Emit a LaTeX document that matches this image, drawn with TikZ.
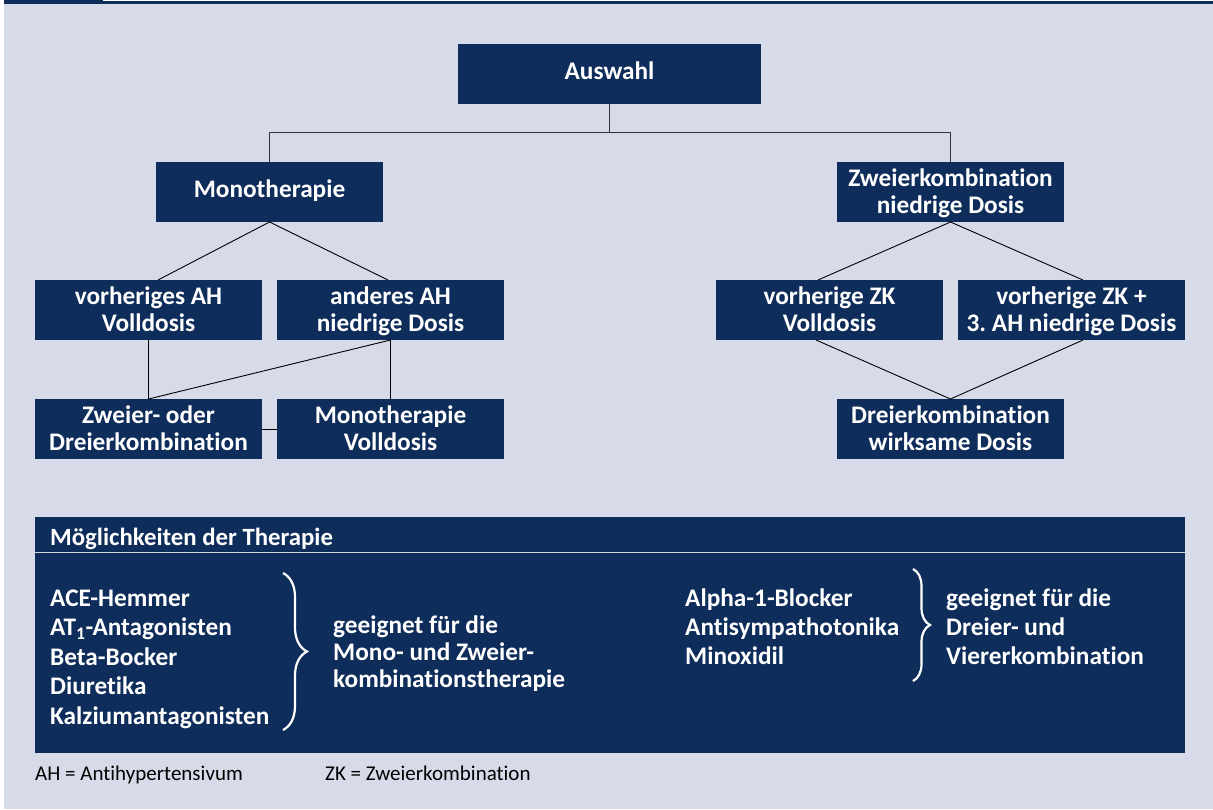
\documentclass[tikz,border=0pt]{standalone}
\usepackage{fontspec}
\setmainfont{Carlito}[Ligatures={NoCommon}]
\usetikzlibrary{decorations.pathreplacing}
\definecolor{navy}{RGB}{15,45,90}
\definecolor{bgc}{RGB}{215,219,233}
\newcommand{\oneS}{\rule[-7pt]{0pt}{25pt}}
\newcommand{\twoS}{\rule[-6pt]{0pt}{27pt}}
\frenchspacing
\tikzset{
  box/.style={fill=navy, text=white, font=\bfseries\fontsize{25.3}{27}\selectfont,
    minimum width=227pt, minimum height=60pt, inner sep=0pt, outer sep=0pt, align=center},
  conn/.style={draw=black, line width=0.9pt},
  busline/.style={draw=black!80, line width=1.2pt},
  lst/.style={text=white, font=\bfseries\fontsize{25.3}{29}\selectfont, anchor=base west, inner sep=0pt},
  hdr/.style={text=white, font=\bfseries\fontsize{24.8}{28}\selectfont, anchor=base west, inner sep=0pt},
  foot/.style={text=black, font=\fontsize{21}{24}\selectfont, anchor=base west, inner sep=0pt},
  brc/.style={draw=white, line width=2.2pt, decorate}
}
\begin{document}
\begin{tikzpicture}[x=1pt,y=-1pt]
\useasboundingbox (0,0) rectangle (1213,809);
\fill[white] (0,0) rectangle (1213,809);
\fill[bgc] (4,3.5) rectangle (1213,809);
\fill[navy] (4,1) rectangle (1213,3.5);
\fill[navy] (4,0) rectangle (103,3.8);

% flow chart boxes
\node[box, minimum width=303pt] (auswahl) at (609.5,74) {\oneS Auswahl};
\node[box] (mono) at (269.5,192) {\oneS Monotherapie};
\node[box] (zk) at (950.5,192) {\twoS Zweierkombination\\\twoS niedrige Dosis};
\node[box] (vah) at (148.5,310) {\twoS vorheriges AH\\\twoS Volldosis};
\node[box] (aah) at (390.5,310) {\twoS anderes AH\\\twoS niedrige Dosis};
\node[box] (zod) at (148.5,429) {\twoS Zweier- oder\\\twoS Dreierkombination};
\node[box] (mvd) at (390.5,429) {\twoS Monotherapie\\\twoS Volldosis};
\node[box] (vzk) at (829.5,310) {\twoS vorherige ZK\\\twoS Volldosis};
\node[box] (vzk3) at (1071.5,310) {\twoS vorherige ZK +\\\twoS 3. AH niedrige Dosis};
\node[box] (dkw) at (950.5,429) {\twoS Dreierkombination\\\twoS wirksame Dosis};

% connectors
\coordinate (bus) at (609.5,132.5);
\draw[busline] (auswahl.south) -- (bus);
\draw[busline] (mono.north) |- (bus) -| (zk.north);
\draw[conn] (mono.south) -- ([xshift=9.5pt]vah.north);
\draw[conn] (mono.south) -- ([xshift=-2.5pt]aah.north);
\draw[conn] (vah.south) -- (zod.north);
\draw[conn] (aah.south) -- (zod.north);
\draw[conn] (aah.south) -- (mvd.north);
\draw[conn] (zod.east) -- (mvd.west);
\draw[conn] (zk.south) -- ([xshift=-11.5pt]vzk.north);
\draw[conn] (zk.south) -- ([xshift=11.5pt]vzk3.north);
\draw[conn] ([xshift=-13.5pt]vzk.south) -- (dkw.north);
\draw[conn] ([xshift=11.5pt]vzk3.south) -- (dkw.north);

% panel
\node[fill=navy, minimum width=1150pt, minimum height=236pt, inner sep=0pt, outer sep=0pt, anchor=north west] (panel) at (35,517) {};
\draw[draw=white!80!navy, line width=1pt] (35,552) -- (1185,552);
\node[hdr] (title) at (50,545) {Möglichkeiten der Therapie};

\node[lst] (l1) at (50,606) {ACE-Hemmer};
\node[lst] (l2) at (50,635.5) {AT\textsubscript{1}-Antagonisten};
\node[lst] (l3) at (50,665) {Beta-Bocker};
\node[lst] (l4) at (50,694.5) {Diuretika};
\node[lst] (l5) at (50,724) {Kalziumantagonisten};
\draw[brc, decoration={brace, amplitude=24pt, aspect=0.5}] (283,573) -- (283,730);
\node[lst] (g1) at (333,633) {geeignet für die};
\node[lst] (g2) at (333,660) {Mono- und Zweier-};
\node[lst] (g3) at (333,687) {kombinationstherapie};

\node[lst] (r1) at (685,606) {Alpha-1-Blocker};
\node[lst] (r2) at (685,635) {Antisympathotonika};
\node[lst] (r3) at (685,664) {Minoxidil};
\draw[brc, decoration={brace, amplitude=17pt, aspect=0.5}] (913,569) -- (913,681);
\node[lst] (h1) at (946,606) {geeignet für die};
\node[lst] (h2) at (946,635) {Dreier- und};
\node[lst] (h3) at (946,664) {Viererkombination};

% footer
\node[foot] (f1) at (35,780) {AH = Antihypertensivum};
\node[foot] (f2) at (325,780) {ZK = Zweierkombination};
\end{tikzpicture}
\end{document}
